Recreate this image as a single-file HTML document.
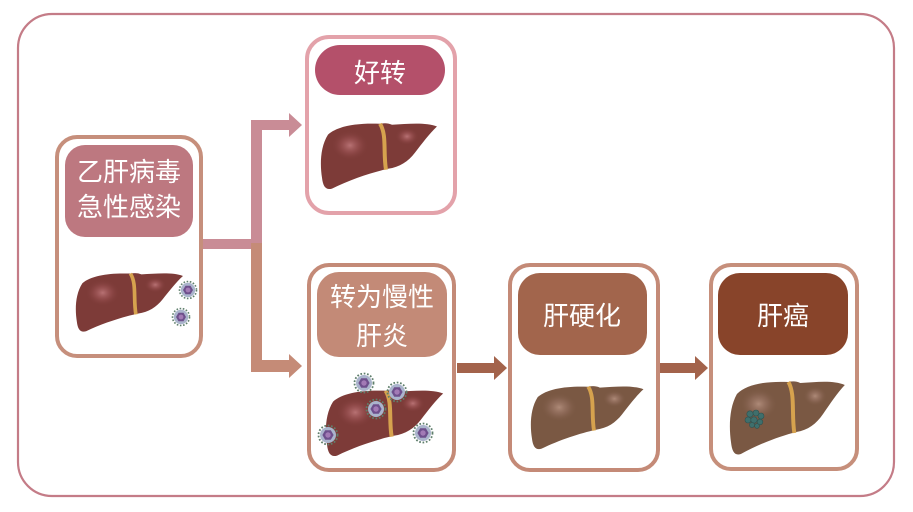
<!DOCTYPE html>
<html><head><meta charset="utf-8"><style>
html,body{margin:0;padding:0;background:#fff;}
svg{display:block;}
text{font-family:"Liberation Sans","Noto Sans CJK SC",sans-serif;fill:#fff;font-size:26px;text-anchor:middle;}
</style></head><body>
<svg width="913" height="512" viewBox="0 0 913 512" xmlns="http://www.w3.org/2000/svg">
<defs>
<radialGradient id="hlR1" cx="0.5" cy="0.5" r="0.5"><stop offset="0" stop-color="#b87274"/><stop offset="0.5" stop-color="#9a5152" stop-opacity="0.6"/><stop offset="1" stop-color="#7b3a37" stop-opacity="0"/></radialGradient>
<radialGradient id="hlB1" cx="0.5" cy="0.5" r="0.5"><stop offset="0" stop-color="#ae8a78"/><stop offset="0.5" stop-color="#957060" stop-opacity="0.6"/><stop offset="1" stop-color="#7a5843" stop-opacity="0"/></radialGradient>
</defs>

<!-- outer frame -->
<rect x="18" y="14" width="876" height="482" rx="34" fill="none" stroke="#c47c87" stroke-width="2.2"/>

<!-- connectors -->
<rect x="201" y="239" width="56" height="10" fill="#c98c96"/>
<rect x="251" y="120" width="11" height="129" fill="#c98c96"/>
<rect x="251" y="120" width="40" height="10" fill="#c98c96"/>
<polygon points="289,113 302,125 289,137" fill="#c98c96"/>
<rect x="251" y="243" width="11" height="129" fill="#c58b77"/>
<rect x="251" y="360" width="40" height="12" fill="#c58b77"/>
<polygon points="289,354 302,366 289,378" fill="#c58b77"/>

<rect x="457" y="363" width="38" height="10" fill="#a3634b"/>
<polygon points="494,356 507,368 494,380" fill="#a3634b"/>
<rect x="658" y="363" width="38" height="10" fill="#a3634b"/>
<polygon points="695,356 708,368 695,380" fill="#a3634b"/>

<!-- box 1 -->
<rect x="57" y="137" width="144" height="219" rx="20" fill="#fff" stroke="#c68f7c" stroke-width="4"/>
<rect x="65" y="145" width="128" height="92" rx="20" fill="#bd7880"/>
<text x="129" y="181">乙肝病毒</text>
<text x="129" y="216">急性感染</text>

<!-- box 2 -->
<rect x="307" y="37" width="148" height="176" rx="22" fill="#fff" stroke="#e3a2aa" stroke-width="4"/>
<rect x="315" y="45" width="130" height="50" rx="25" fill="#b4506a"/>
<text x="380" y="82">好转</text>

<!-- box 3 -->
<rect x="309" y="265" width="145" height="205" rx="20" fill="#fff" stroke="#c48a77" stroke-width="4"/>
<rect x="317" y="272" width="130" height="85" rx="22" fill="#c38a77"/>
<text x="382" y="306">转为慢性</text>
<text x="382" y="345">肝炎</text>

<!-- box 4 -->
<rect x="510" y="265" width="148" height="205" rx="20" fill="#fff" stroke="#c48a77" stroke-width="4"/>
<rect x="518" y="273" width="129" height="82" rx="22" fill="#a2654c"/>
<text x="582" y="325">肝硬化</text>

<!-- box 5 -->
<rect x="711" y="265" width="146" height="204" rx="20" fill="#fff" stroke="#c68f7b" stroke-width="4"/>
<rect x="718" y="273" width="130" height="82" rx="22" fill="#88442a"/>
<text x="783" y="325">肝癌</text>

<!-- livers: local path 117x76 -->
<g transform="translate(75,272) scale(0.923,0.80)">
<path d="M8 14 C18 4 38 1 60 2 C64 1 68 1 72 3 C88 2 106 0 117 5 C110 12 102 24 95 34 C88 44 80 50 68 52 C52 56 30 64 12 74 C6 76 3 72 2 62 C0 48 0 28 8 14 Z" fill="#7d3b38"/>
<ellipse cx="30" cy="26" rx="19" ry="17" fill="url(#hlR1)"/>
<ellipse cx="87" cy="16" rx="12" ry="10" fill="url(#hlR1)"/>
<path d="M60 2 C67 14 63 34 66 53" fill="none" stroke="#d6a24e" stroke-width="4"/>
</g>
<g transform="translate(320,122) scale(1,0.9)">
<path d="M8 14 C18 4 38 1 60 2 C64 1 68 1 72 3 C88 2 106 0 117 5 C110 12 102 24 95 34 C88 44 80 50 68 52 C52 56 30 64 12 74 C6 76 3 72 2 62 C0 48 0 28 8 14 Z" fill="#7d3b38"/>
<ellipse cx="30" cy="26" rx="19" ry="17" fill="url(#hlR1)"/>
<ellipse cx="87" cy="16" rx="12" ry="10" fill="url(#hlR1)"/>
<path d="M60 2 C67 14 63 34 66 53" fill="none" stroke="#d6a24e" stroke-width="4"/>
</g>
<g transform="translate(325,389) scale(1.01,0.9)">
<path d="M8 14 C18 4 38 1 60 2 C64 1 68 1 72 3 C88 2 106 0 117 5 C110 12 102 24 95 34 C88 44 80 50 68 52 C52 56 30 64 12 74 C6 76 3 72 2 62 C0 48 0 28 8 14 Z" fill="#7d3b38"/>
<ellipse cx="30" cy="26" rx="19" ry="17" fill="url(#hlR1)"/>
<ellipse cx="87" cy="16" rx="12" ry="10" fill="url(#hlR1)"/>
<path d="M60 2 C67 14 63 34 66 53" fill="none" stroke="#d6a24e" stroke-width="4"/>
</g>
<g transform="translate(530,385) scale(0.97,0.86)">
<path d="M8 14 C18 4 38 1 60 2 C64 1 68 1 72 3 C88 2 106 0 117 5 C110 12 102 24 95 34 C88 44 80 50 68 52 C52 56 30 64 12 74 C6 76 3 72 2 62 C0 48 0 28 8 14 Z" fill="#7a5843"/>
<ellipse cx="30" cy="26" rx="19" ry="17" fill="url(#hlB1)"/>
<ellipse cx="87" cy="16" rx="12" ry="10" fill="url(#hlB1)"/>
<path d="M60 2 C67 14 63 34 66 53" fill="none" stroke="#d6a24e" stroke-width="4"/>
</g>
<g transform="translate(729,380) scale(0.99,1.0)">
<path d="M8 14 C18 4 38 1 60 2 C64 1 68 1 72 3 C88 2 106 0 117 5 C110 12 102 24 95 34 C88 44 80 50 68 52 C52 56 30 64 12 74 C6 76 3 72 2 62 C0 48 0 28 8 14 Z" fill="#7a5843"/>
<ellipse cx="30" cy="24" rx="19" ry="16" fill="url(#hlB1)"/>
<ellipse cx="87" cy="16" rx="12" ry="10" fill="url(#hlB1)"/>
<path d="M60 2 C67 14 63 34 66 53" fill="none" stroke="#d6a24e" stroke-width="4"/>
</g>
<!-- tumor -->
<g fill="#3f6f6c" stroke="#2f5250" stroke-width="0.6">
<circle cx="750" cy="414" r="3.2"/><circle cx="756" cy="413" r="3"/><circle cx="761" cy="416" r="3"/>
<circle cx="748" cy="420" r="3"/><circle cx="754" cy="420" r="3.2"/><circle cx="760" cy="422" r="2.8"/>
<circle cx="752" cy="425" r="2.6"/><circle cx="757" cy="426" r="2.4"/>
</g>

<!-- viruses -->
<g>
<g transform="translate(188,290)"><circle r="8.5" fill="none" stroke="#5f7f6c" stroke-width="1.6" stroke-dasharray="1.6 1.6"/><circle r="7.2" fill="#aab4cc"/><polygon points="5,0 2.5,4.3 -2.5,4.3 -5,0 -2.5,-4.3 2.5,-4.3" fill="#6e4f8c"/><circle r="2.4" fill="#a27ab5"/></g>
<g transform="translate(181,317)"><circle r="8.5" fill="none" stroke="#5f7f6c" stroke-width="1.6" stroke-dasharray="1.6 1.6"/><circle r="7.2" fill="#aab4cc"/><polygon points="5,0 2.5,4.3 -2.5,4.3 -5,0 -2.5,-4.3 2.5,-4.3" fill="#6e4f8c"/><circle r="2.4" fill="#a27ab5"/></g>
<g transform="translate(364,383)"><circle r="9.5" fill="none" stroke="#5f7f6c" stroke-width="1.8" stroke-dasharray="1.7 1.7"/><circle r="8" fill="#aab4cc"/><polygon points="5.6,0 2.8,4.8 -2.8,4.8 -5.6,0 -2.8,-4.8 2.8,-4.8" fill="#6e4f8c"/><circle r="2.7" fill="#a27ab5"/></g>
<g transform="translate(397,392)"><circle r="9.5" fill="none" stroke="#5f7f6c" stroke-width="1.8" stroke-dasharray="1.7 1.7"/><circle r="8" fill="#aab4cc"/><polygon points="5.6,0 2.8,4.8 -2.8,4.8 -5.6,0 -2.8,-4.8 2.8,-4.8" fill="#6e4f8c"/><circle r="2.7" fill="#a27ab5"/></g>
<g transform="translate(376,409)"><circle r="9.5" fill="none" stroke="#5f7f6c" stroke-width="1.8" stroke-dasharray="1.7 1.7"/><circle r="8" fill="#aab4cc"/><polygon points="5.6,0 2.8,4.8 -2.8,4.8 -5.6,0 -2.8,-4.8 2.8,-4.8" fill="#6e4f8c"/><circle r="2.7" fill="#a27ab5"/></g>
<g transform="translate(328,435)"><circle r="9.5" fill="none" stroke="#5f7f6c" stroke-width="1.8" stroke-dasharray="1.7 1.7"/><circle r="8" fill="#aab4cc"/><polygon points="5.6,0 2.8,4.8 -2.8,4.8 -5.6,0 -2.8,-4.8 2.8,-4.8" fill="#6e4f8c"/><circle r="2.7" fill="#a27ab5"/></g>
<g transform="translate(423,433)"><circle r="9.5" fill="none" stroke="#5f7f6c" stroke-width="1.8" stroke-dasharray="1.7 1.7"/><circle r="8" fill="#aab4cc"/><polygon points="5.6,0 2.8,4.8 -2.8,4.8 -5.6,0 -2.8,-4.8 2.8,-4.8" fill="#6e4f8c"/><circle r="2.7" fill="#a27ab5"/></g>
</g>
</svg>
</body></html>
